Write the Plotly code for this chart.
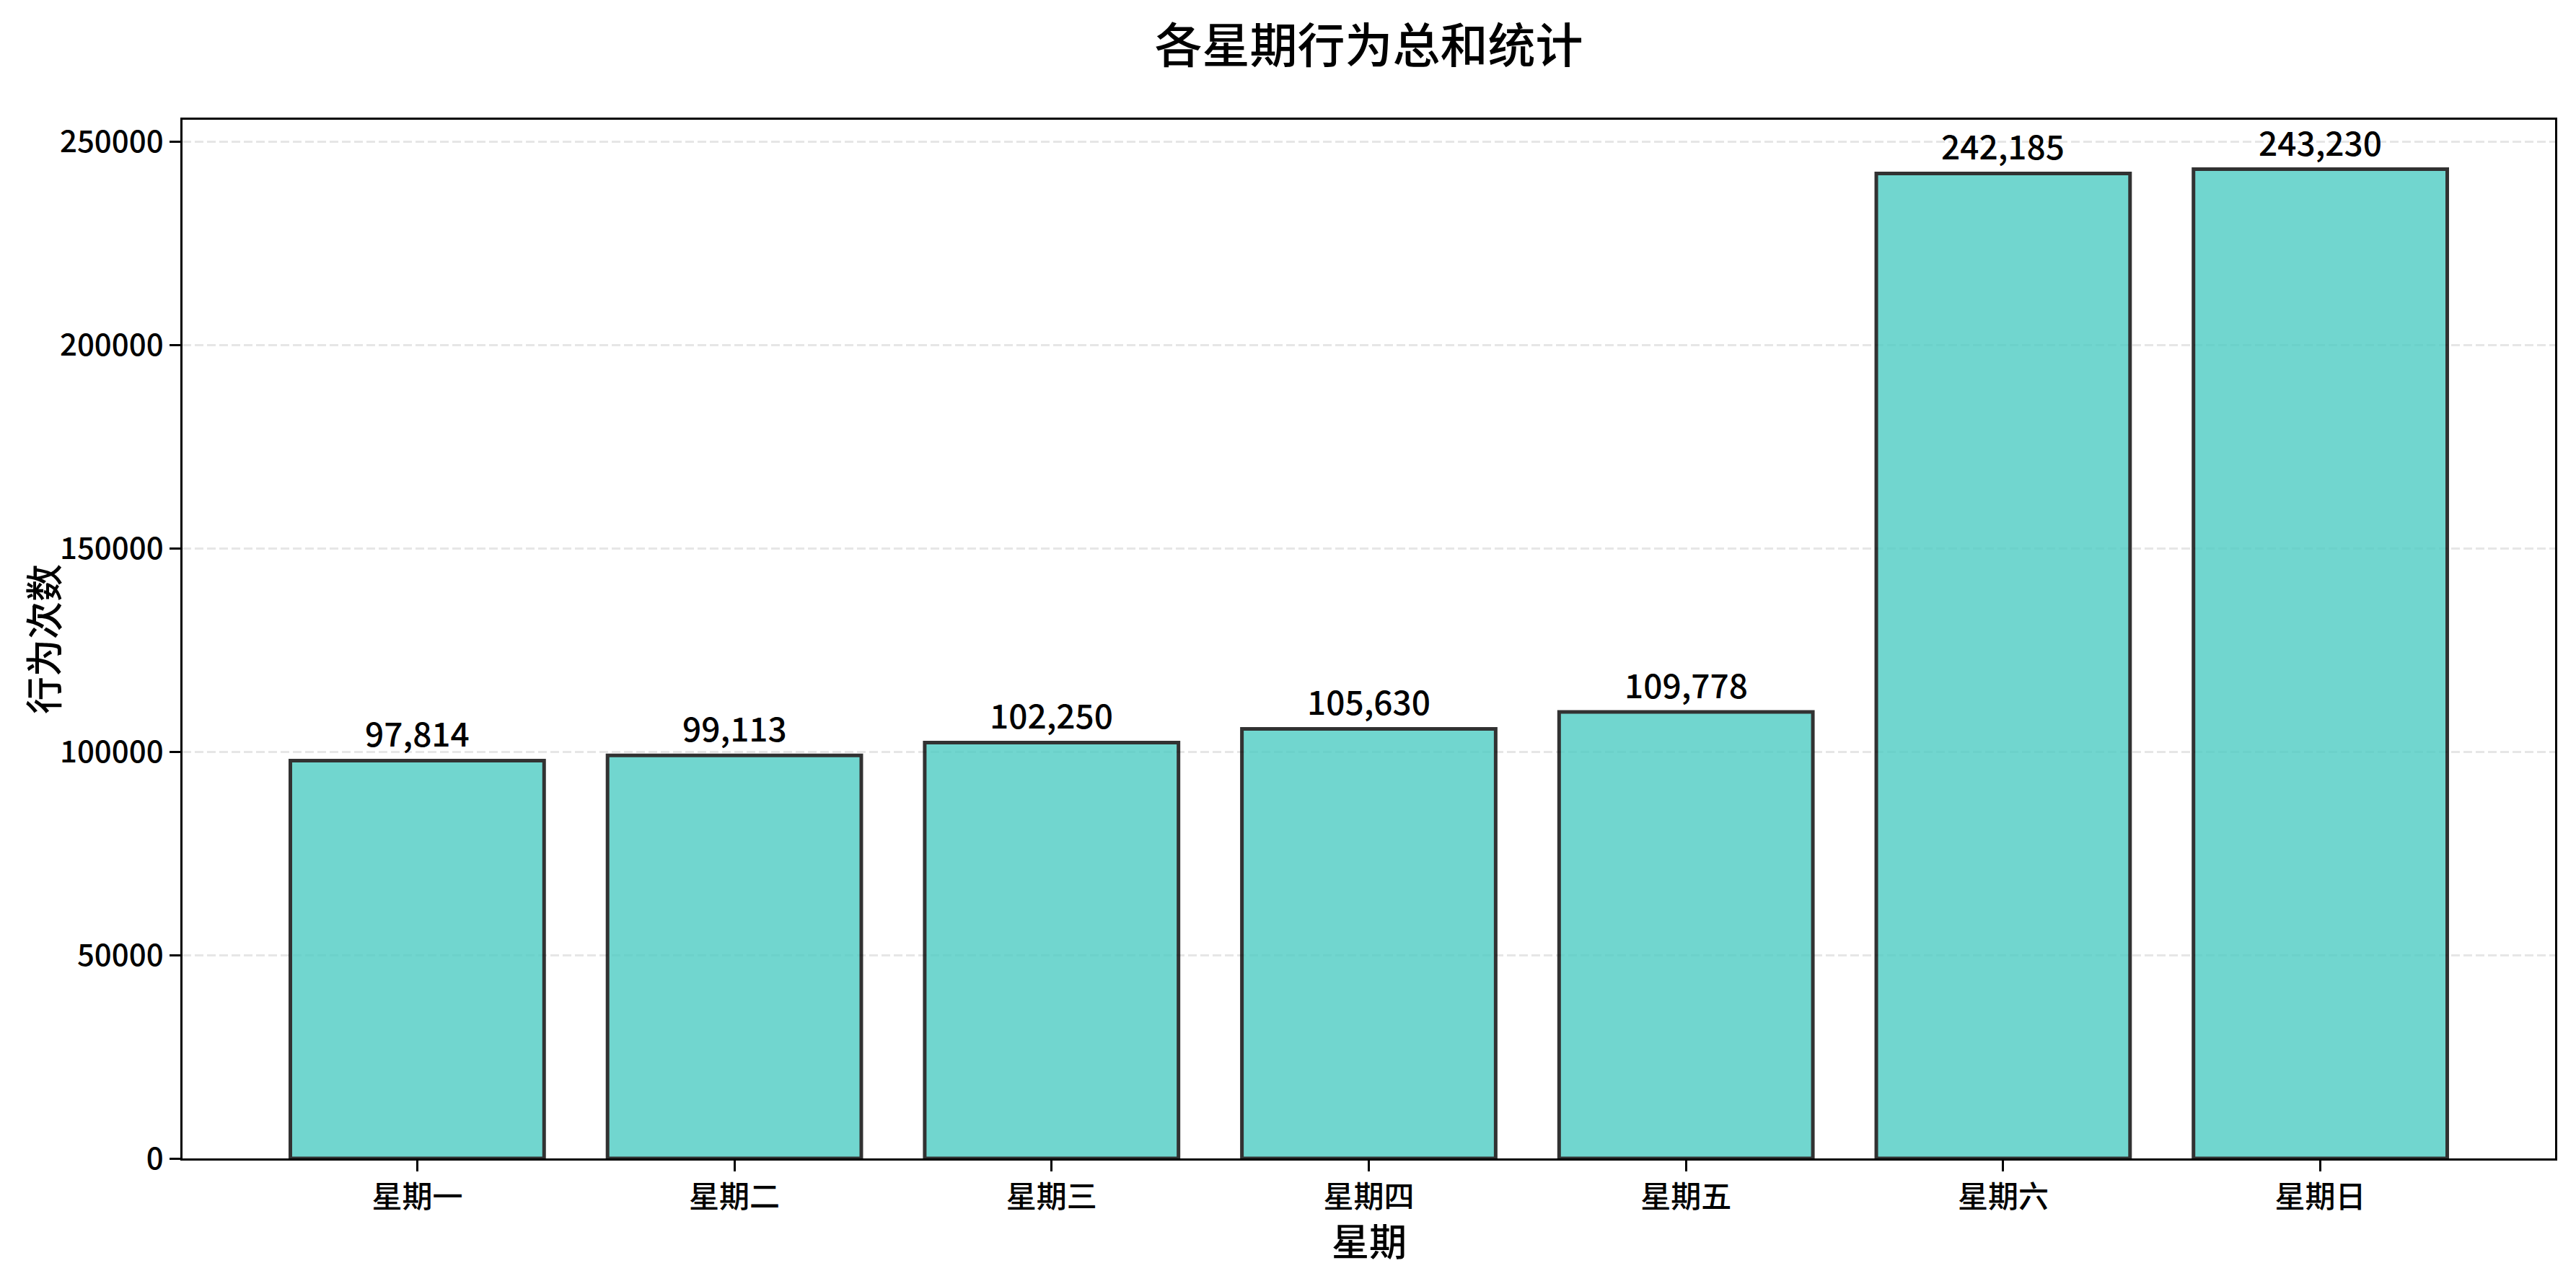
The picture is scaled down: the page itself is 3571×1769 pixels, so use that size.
import plotly.graph_objects as go

categories = ["星期一", "星期二", "星期三", "星期四", "星期五", "星期六", "星期日"]
values = [97814, 99113, 102250, 105630, 109778, 242185, 243230]
y_ticks = [0, 50000, 100000, 150000, 200000, 250000]
y_tick_labels = ["0", "50000", "100000", "150000", "200000", "250000"]

FONT = "Noto Sans CJK SC"
W, H = 3571, 1769
L, R, T, B = 253, 29, 166, 163
PW, PH = W - L - R, H - T - B

fig = go.Figure()
fig.add_trace(go.Bar(
    x=categories,
    y=values,
    width=0.8,
    marker=dict(color="#4ECDC4", opacity=0.8,
                line=dict(color="black", width=5)),
    hoverinfo="x+y",
))

for c, v in zip(categories, values):
    fig.add_annotation(x=c, y=v, text=f"{v:,}", showarrow=False,
                       yanchor="bottom", yshift=5, borderpad=0,
                       font=dict(family=FONT, size=46, color="black", weight=500))

# axis titles
fig.add_annotation(text="星期", xref="paper", yref="paper",
                   x=0.5, y=(0 - (1718 - (T + PH))) / PH,
                   xanchor="center", yanchor="middle", showarrow=False,
                   borderpad=0,
                   font=dict(family=FONT, size=52, color="black", weight=500))
fig.add_annotation(text="行为次数", xref="paper", yref="paper",
                   x=(58 - L) / PW, y=0.5, textangle=-90,
                   xanchor="center", yanchor="middle", showarrow=False,
                   borderpad=0,
                   font=dict(family=FONT, size=52, color="black", weight=500))

fig.update_layout(
    width=W, height=H,
    margin=dict(l=L, r=R, t=T, b=B),
    paper_bgcolor="white", plot_bgcolor="white",
    showlegend=False,
    font=dict(family=FONT, color="black"),
    title=dict(text="各星期行为总和统计", x=0.5, xref="paper",
               y=1 - 64 / H, yref="container", yanchor="middle",
               font=dict(family=FONT, size=66, color="black", weight=500)),
    bargap=0.2,
)

fig.update_xaxes(
    range=[-0.74, 6.74],
    showline=True, linecolor="black", linewidth=3, mirror=True,
    ticks="outside", ticklen=15, tickwidth=3, tickcolor="black",
    tickfont=dict(family=FONT, size=42, color="black", weight=500),
    showgrid=False,
)
fig.update_yaxes(
    range=[0, 255391],
    tickvals=y_ticks, ticktext=y_tick_labels,
    showline=True, linecolor="black", linewidth=3, mirror=True,
    ticks="outside", ticklen=15, tickwidth=3, tickcolor="black",
    tickfont=dict(family=FONT, size=42, color="black", weight=500),
    showgrid=True, gridcolor="#e6e6e6", gridwidth=3, griddash="12px,5px",
    zeroline=False,
)

fig.write_html("out.html")
